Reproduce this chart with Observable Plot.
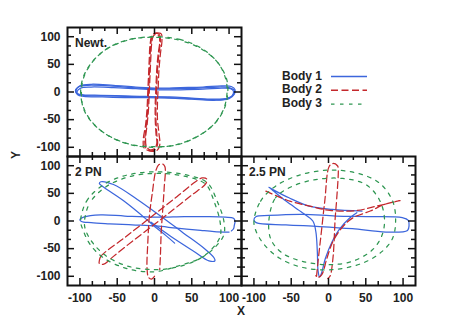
<!DOCTYPE html>
<html><head><meta charset="utf-8">
<script src="https://cdn.jsdelivr.net/npm/d3@7"></script>
<script src="https://cdn.jsdelivr.net/npm/@observablehq/plot@0.6"></script>
<style>
html,body{margin:0;padding:0;background:#fff;}
#chart{position:relative;width:464px;height:330px;overflow:hidden;background:#fff;}
#chart svg{position:absolute;}
</style></head><body><div id="chart"></div>
<script>
// ---- axis ticks ----
const axisDomain = [-116.67, 116.67];
const majorTicks = [-100, -50, 0, 50, 100];
const minorTicks = [-83.33, -66.67, -33.33, -16.67, 16.67, 33.33, 66.67, 83.33];

// ---- series ----
const seriesNames = ["Body 1", "Body 2", "Body 3"];
const seriesColors = ["#3c66dc", "#c4282c", "#2e9651"];
const seriesDash = [null, "7,3.5", "3.5,5.5"];
const panelLabels = ["Newt.", "2 PN", "2.5 PN"];

// ---- Newtonian panel traces [x, y] ----
const newtB1a = [[-106,2],[-102,9],[-90,12],[-60,11],[-30,8],[0,6],[30,6],[60,7],[85,9],[100,8],[107,3],[106,-5],[98,-11],[80,-13],[50,-11],[20,-9],[-10,-9],[-40,-8],[-70,-7],[-95,-6],[-104,-3]];
const newtB1b = [[-105,4],[-100,11],[-85,14],[-55,12],[-25,9],[5,7],[35,8],[65,9],[90,11],[103,10],[108,4],[107,-4],[100,-12],[80,-15],[50,-13],[20,-11],[-10,-10],[-40,-10],[-70,-9],[-95,-8],[-103,-5]];
const newtB1c = [[-104,0],[-99,7],[-85,9],[-55,8],[-25,6],[5,4],[35,4],[65,5],[90,7],[102,6],[106,1],[104,-7],[96,-13],[78,-14],[48,-12],[18,-10],[-12,-8],[-42,-7],[-72,-6],[-96,-5],[-103,-3]];
const newtB2a = [[2,106],[7,103],[8,92],[6,70],[4,40],[3,10],[2,-20],[2,-50],[3,-75],[4,-95],[0,-105],[-7,-106],[-12,-100],[-13,-85],[-11,-60],[-9,-30],[-8,0],[-7,30],[-6,60],[-5,85],[-3,101]];
const newtB2b = [[3,107],[9,105],[10,93],[8,70],[6,40],[5,10],[4,-20],[4,-50],[6,-75],[7,-96],[3,-106],[-5,-107],[-14,-101],[-15,-85],[-12,-60],[-10,-30],[-9,0],[-8,30],[-7,60],[-6,85],[-3,103]];
const newtB2c = [[1,104],[6,101],[7,90],[5,70],[3,40],[2,10],[1,-20],[1,-50],[2,-75],[3,-94],[-1,-103],[-7,-104],[-11,-98],[-12,-85],[-10,-60],[-8,-30],[-7,0],[-6,30],[-5,60],[-4,85],[-2,100]];
const newtB3a = [[0,100],[34,95],[63,79],[85,53],[97,22],[98,-5],[93,-32],[80,-58],[58,-80],[30,-95],[0,-100],[-30,-96],[-58,-82],[-80,-60],[-94,-32],[-99,-3],[-96,25],[-85,52],[-65,77],[-35,94]];
const newtB3b = [[1,99],[35,93],[64,77],[86,51],[96,21],[97,-6],[92,-33],[79,-59],[57,-81],[29,-96],[-1,-99],[-31,-95],[-59,-81],[-81,-59],[-95,-31],[-98,-2],[-95,26],[-84,53],[-64,78],[-34,95]];

// ---- 2 PN panel traces ----
const pn2B1a = [[100,-20],[80,-19],[62,-17],[30,-13],[2,-9],[-30,-7],[-60,-5],[-85,-3],[-98,-1],[-100,3],[-95,7],[-72,11],[-40,9],[2,7],[40,8],[70,8],[95,7],[106,5],[108,0],[107,-8],[106,-14],[103,-18]];
const pn2B1b = [[27,-40],[15,-26],[0,-10],[-10,2],[-41,36],[-68,61],[-74,68],[-72,71],[-55,66],[-23,39],[8,9],[39,-22],[66,-49],[80,-67],[81,-72],[73,-72],[53,-55],[22,-28],[-5,-2]];
const pn2B2a = [[0,-100],[-4,-105],[-8,-102],[-10,-85],[-9,-40],[-7,7],[-3,50],[2,92],[6,102],[11,103],[14,98],[13,60],[11,20],[9,-20],[8,-60],[7,-88]];
const pn2B2b = [[-74,-72],[-72,-64],[-40,-30],[0,12],[30,44],[55,71],[64,78],[70,76],[69,68],[50,47],[20,15],[0,-6],[-30,-37],[-55,-64],[-68,-78],[-74,-77]];
const pn2B3a = [[-99,0],[-91,36],[-68,66],[-37,83],[0,89],[44,83],[71,69],[84,36],[93,0],[93,-25],[80,-49],[62,-67],[30,-82],[-1,-92],[-37,-86],[-68,-67],[-86,-43],[-95,-19]];
const pn2B3b = [[-94,-4],[-87,32],[-65,62],[-34,80],[2,86],[44,80],[69,66],[80,35],[88,-2],[88,-28],[76,-52],[58,-70],[28,-84],[0,-88],[-35,-82],[-64,-64],[-82,-41],[-91,-21]];

// ---- 2.5 PN panel traces ----
const pn25B1a = [[-100,2],[-97,8],[-80,10],[-35,12],[10,9],[55,8],[99,6],[107,1],[108,-8],[106,-17],[77,-20],[32,-14],[-12,-10],[-57,-7],[-97,-3]];
const pn25B1b = [[45,18],[5,21],[-26,27],[-53,42],[-72,55],[-80,61],[-77,58],[-57,36],[-35,15],[-21,0],[-17,-19],[-15,-55],[-14,-90],[-12,-101],[-10,-97],[-4,-67],[5,-37],[14,-16],[28,5],[38,15]];
const pn25B2a = [[-84,54],[-52,36],[-25,27],[2,19],[38,19],[65,27],[96,37],[75,30],[56,18],[33,6],[20,-9],[6,-37],[-2,-67],[-9,-97],[-14,-102],[-17,-99]];
const pn25B2b = [[-16,-100],[-14,-73],[-10,-25],[-5,36],[1,99],[6,104],[12,100],[13,96],[11,40],[9,6],[6,-67],[2,-100],[-1,-104]];
const pn25B3a = [[-100,0],[-91,36],[-71,63],[-39,83],[1,92],[37,87],[68,69],[86,36],[90,0],[86,-31],[72,-55],[46,-76],[5,-88],[-35,-84],[-66,-67],[-86,-43],[-97,-19]];
const pn25B3b = [[-80,0],[-71,42],[-48,63],[-17,75],[19,77],[50,66],[68,39],[75,6],[72,-25],[59,-52],[32,-73],[1,-79],[-35,-73],[-62,-58],[-77,-34]];

// ---- layout ----
const FW = 174, FH = 129;
const M = {l: 45, r: 6, t: 6, b: 30};
const FONT = "'Liberation Sans', Arial, Helvetica, sans-serif";
const INK = "#222";

const panels = [
  {label: panelLabels[0], fl: 67, ft: 27, showX: false, showY: true,
   traces: [[newtB1a,0,true,0],[newtB1b,0,true,0],[newtB1c,0,true,0],
            [newtB2a,1,true,0],[newtB2b,1,true,5],[newtB2c,1,true,2],
            [newtB3a,2,true,0],[newtB3b,2,true,4.5]]},
  {label: panelLabels[1], fl: 67, ft: 156, showX: true, showY: true,
   traces: [[pn2B1a,0,false,0],[pn2B1b,0,false,0],
            [pn2B2a,1,false,0],[pn2B2b,1,true,0],
            [pn2B3a,2,true,0],[pn2B3b,2,true,4]]},
  {label: panelLabels[2], fl: 241, ft: 156, showX: true, showY: false,
   traces: [[pn25B1a,0,true,0],[pn25B1b,0,false,0],
            [pn25B2a,1,false,0],[pn25B2b,1,false,0],
            [pn25B3a,2,true,0],[pn25B3b,2,true,2]]}
];

const chart = document.getElementById("chart");

function tickMarks() {
  const s = {stroke: "#111", strokeWidth: 1.5};
  return [
    Plot.tickX(majorTicks, {x: d => d, insetTop: FH - 7, ...s}),
    Plot.tickX(majorTicks, {x: d => d, insetBottom: FH - 7, ...s}),
    Plot.tickX(minorTicks, {x: d => d, insetTop: FH - 4, ...s}),
    Plot.tickX(minorTicks, {x: d => d, insetBottom: FH - 4, ...s}),
    Plot.tickY(majorTicks, {y: d => d, insetRight: FW - 7, ...s}),
    Plot.tickY(majorTicks, {y: d => d, insetLeft: FW - 7, ...s}),
    Plot.tickY(minorTicks, {y: d => d, insetRight: FW - 4, ...s}),
    Plot.tickY(minorTicks, {y: d => d, insetLeft: FW - 4, ...s})
  ];
}

for (const p of panels) {
  const marks = [];
  for (const [pts, si, closed, off] of p.traces) {
    const rows = pts.map(([x, y]) => ({x, y}));
    marks.push(Plot.line(rows, {
      x: "x", y: "y",
      stroke: seriesColors[si],
      strokeWidth: 1.25,
      strokeDasharray: seriesDash[si] || undefined,
      strokeDashoffset: off,
      curve: closed ? "catmull-rom-closed" : "catmull-rom"
    }));
  }
  marks.push(...tickMarks());
  marks.push(Plot.frame({stroke: "#111", strokeWidth: 2}));
  if (p.showX) marks.push(Plot.axisX(majorTicks, {anchor: "bottom", tickSize: 0, tickPadding: 8,
    tickFormat: d => String(d), label: null, fontSize: 12, fontWeight: "bold", fill: INK}));
  if (p.showY) marks.push(Plot.axisY(majorTicks, {anchor: "left", tickSize: 0, tickPadding: 7,
    tickFormat: d => String(d), label: null, fontSize: 12, fontWeight: "bold", fill: INK}));
  marks.push(Plot.text([p.label], {text: d => d, frameAnchor: "top-left", dx: 7.5, dy: 11,
    textAnchor: "start", lineAnchor: "top", fontSize: 12, fontWeight: "bold", fill: INK}));

  const svg = Plot.plot({
    width: M.l + FW + M.r, height: M.t + FH + M.b,
    marginLeft: M.l, marginRight: M.r, marginTop: M.t, marginBottom: M.b,
    x: {domain: axisDomain, axis: null},
    y: {domain: axisDomain, axis: null},
    style: {background: "transparent", overflow: "visible", fontFamily: FONT, fontSize: "12px", fontWeight: "bold", color: INK},
    marks
  });
  svg.style.position = "absolute";
  svg.style.left = (p.fl - M.l) + "px";
  svg.style.top = (p.ft - M.t) + "px";
  chart.appendChild(svg);
}

// ---- overlay: axis titles and legend ----
const ov = d3.create("svg").attr("width", 464).attr("height", 330)
  .style("left", "0px").style("top", "0px").style("background", "transparent")
  .style("font-family", FONT).style("font-weight", "bold").style("font-size", "12px");
ov.append("text").attr("x", 241).attr("y", 311).attr("text-anchor", "middle")
  .attr("dominant-baseline", "central").attr("fill", INK).text("X");
ov.append("text").attr("transform", "translate(16,155) rotate(-90)").attr("text-anchor", "middle")
  .attr("dominant-baseline", "central").attr("fill", INK).text("Y");
const lg = ov.append("g");
seriesNames.forEach((n, i) => {
  const cy = 75.5 + i * 13.8;
  lg.append("text").attr("x", 282).attr("y", cy).attr("dominant-baseline", "central")
    .attr("fill", INK).text(n);
  lg.append("line").attr("x1", 331).attr("x2", 367).attr("y1", cy + 1).attr("y2", cy + 1)
    .attr("stroke", seriesColors[i]).attr("stroke-width", 1.4)
    .attr("stroke-dasharray", seriesDash[i]);
});
chart.appendChild(ov.node());
</script></body></html>
